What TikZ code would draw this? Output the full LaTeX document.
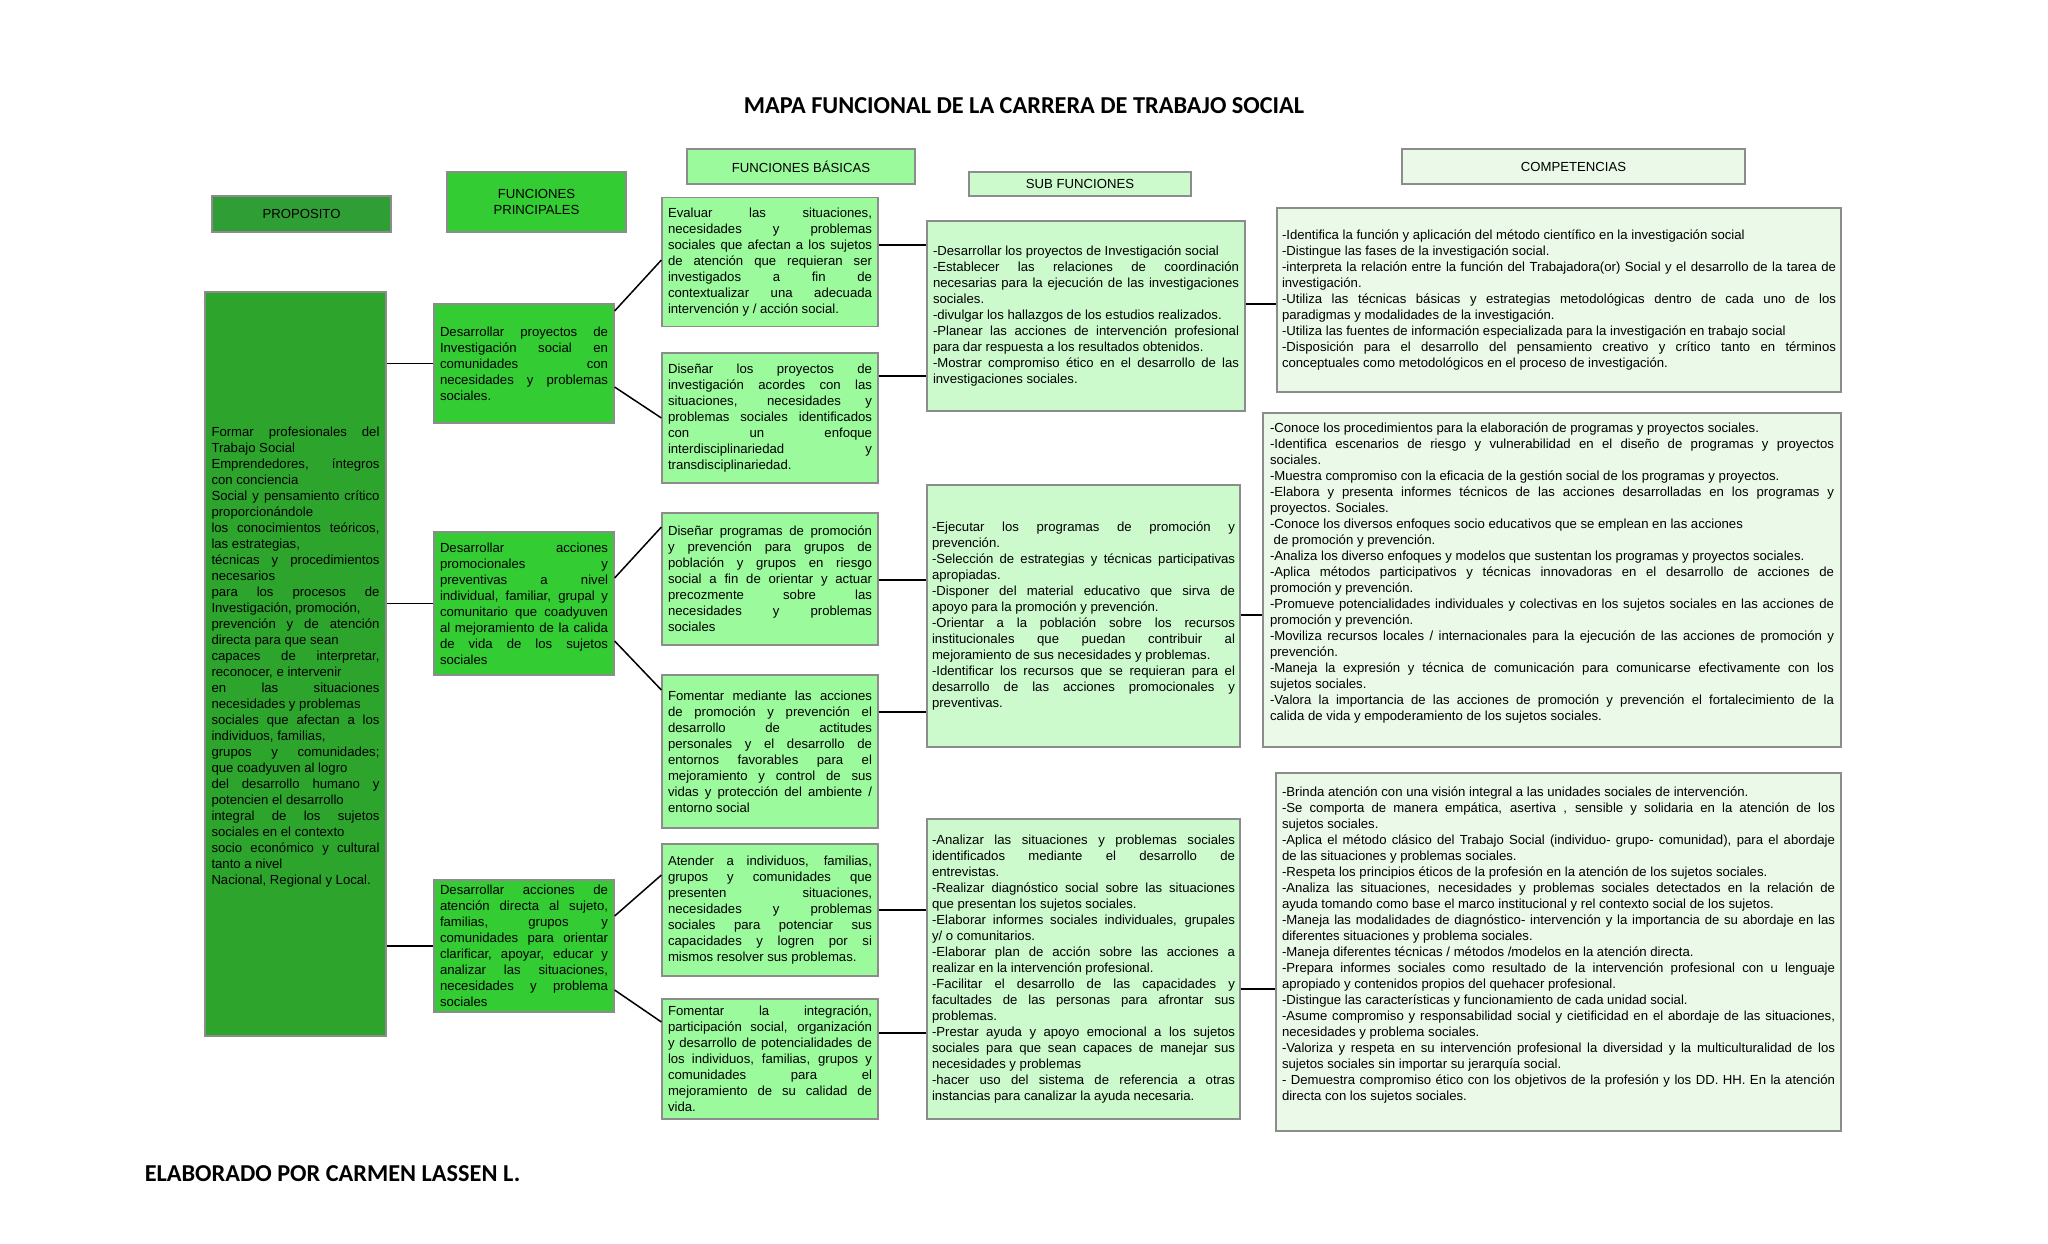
\documentclass[tikz,border=0pt]{standalone}
\usepackage{fontspec}
\setmainfont{Liberation Sans}
\newfontfamily\titlefont{Carlito}
\usepackage{xcolor}
\usepackage{tikz}
\definecolor{propdark}{HTML}{2F9F35}
\definecolor{propgreen}{HTML}{2DA52D}
\definecolor{princgreen}{HTML}{33CC33}
\definecolor{basicgreen}{HTML}{9BFA9B}
\definecolor{subgreen}{HTML}{CCFACC}
\definecolor{compgreen}{HTML}{EBF9E8}
\definecolor{boxgray}{HTML}{8C8C8C}
\newcommand{\bodyfont}{\fontsize{13.15}{16}\selectfont\hyphenpenalty=10000 \tolerance=10000 \hbadness=10000 }
\newcommand{\jbr}{\linebreak}

\begin{document}
\begin{tikzpicture}[x=1pt, y=-1pt, line width=1.5pt,
  box/.style={draw=boxgray, line width=1.2pt, inner ysep=0pt, align=justify, font=\bodyfont},
  hdr/.style={draw=boxgray, line width=1.2pt, inner sep=0pt, align=center, font=\bodyfont},
  princ/.style={box, fill=princgreen, text width=168pt, inner xsep=6pt},
  basic/.style={box, fill=basicgreen, text width=204pt, inner xsep=6pt},
  sub/.style={box, fill=subgreen, text width=303pt, inner xsep=5pt},
  comp/.style={box, fill=compgreen}]
  \useasboundingbox (0,0) rectangle (2048,1243);
  % titles
  \node[font={\fontsize{24.3}{29}\selectfont\titlefont\bfseries}] (title) at (1024,106) {MAPA FUNCIONAL DE LA CARRERA DE TRABAJO SOCIAL};
  \node[anchor=west, inner sep=0pt, font={\fontsize{24.3}{29}\selectfont\titlefont\bfseries}] (author) at (144,1174) {ELABORADO POR CARMEN LASSEN L.};
  % column headers
  \node[hdr, fill=propdark, minimum width=179pt, minimum height=36pt] (prophead) at (301.5,214) {PROPOSITO};
  \node[hdr, fill=princgreen, minimum width=179pt, minimum height=60pt] (princhead) at (536.5,202) {FUNCIONES\\PRINCIPALES};
  \node[hdr, fill=basicgreen, minimum width=228pt, minimum height=35pt] (basichead) at (801,166.5) {FUNCIONES BÁSICAS};
  \node[hdr, fill=subgreen, minimum width=222pt, minimum height=24pt] (subhead) at (1080,184) {SUB FUNCIONES};
  \node[hdr, fill=compgreen, minimum width=343pt, minimum height=35pt] (comphead) at (1573.5,166.5) {COMPETENCIAS};
  % purpose
  \node[box, fill=propgreen, text width=168pt, inner xsep=6.5pt, minimum height=744pt] (prop) at (295.5,664) {Formar profesionales del\jbr Trabajo Social\par
    Emprendedores, íntegros\jbr con conciencia\par
    Social y pensamiento crítico\jbr proporcionándole\par
    los conocimientos teóricos,\jbr las estrategias,\par
    técnicas y procedimientos\jbr necesarios\par
    para los procesos de\jbr Investigación, promoción,\par
    prevención y de atención\jbr directa para que sean\par
    capaces de interpretar,\jbr reconocer, e intervenir\par
    en las situaciones\jbr necesidades y problemas\par
    sociales que afectan a los\jbr individuos, familias,\par
    grupos y comunidades;\jbr que coadyuven al logro\par
    del desarrollo humano y\jbr potencien el desarrollo\par
    integral de los sujetos\jbr sociales en el contexto\par
    socio económico y cultural\jbr tanto a nivel\par
    Nacional, Regional y Local.\par\mbox{}};
  % principal functions
  \node[princ, minimum height=119pt] (p1) at (524,363.5) {Desarrollar proyectos de\jbr Investigación social en\jbr comunidades con\jbr necesidades y problemas\jbr sociales.};
  \node[princ, minimum height=143pt] (p2) at (524,603.5) {Desarrollar acciones\jbr promocionales y\jbr preventivas a nivel\jbr individual, familiar, grupal y\jbr comunitario que coadyuven\jbr al mejoramiento de la calida\jbr de vida de los sujetos\jbr sociales};
  \node[princ, minimum height=132pt] (p3) at (524,946) {Desarrollar acciones de\jbr atención directa al sujeto,\jbr familias, grupos y\jbr comunidades para orientar\jbr clarificar, apoyar, educar y\jbr analizar las situaciones,\jbr necesidades y problema\jbr sociales};
  % basic functions
  \node[basic, minimum height=129pt] (b1) at (770,262) {Evaluar las situaciones,\jbr necesidades y problemas\jbr sociales que afectan a los sujetos\jbr de atención que requieran ser\jbr investigados a fin de\jbr contextualizar una adecuada\jbr intervención y / acción social.};
  \node[basic, minimum height=130pt] (b2) at (770,418) {Diseñar los proyectos de\jbr investigación acordes con las\jbr situaciones, necesidades y\jbr problemas sociales identificados\jbr con un enfoque\jbr interdisciplinariedad y\jbr transdisciplinariedad.};
  \node[basic, minimum height=132pt] (b3) at (770,579) {Diseñar programas de promoción\jbr y prevención para grupos de\jbr población y grupos en riesgo\jbr social a fin de orientar y actuar\jbr precozmente sobre las\jbr necesidades y problemas\jbr sociales};
  \node[basic, minimum height=153pt] (b4) at (770,751.5) {Fomentar mediante las acciones\jbr de promoción y prevención el\jbr desarrollo de actitudes\jbr personales y el desarrollo de\jbr entornos favorables para el\jbr mejoramiento y control de sus\jbr vidas y protección del ambiente /\jbr entorno social};
  \node[basic, minimum height=132pt] (b5) at (770,910) {Atender a individuos, familias,\jbr grupos y comunidades que\jbr presenten situaciones,\jbr necesidades y problemas\jbr sociales para potenciar sus\jbr capacidades y logren por si\jbr mismos resolver sus problemas.};
  \node[basic, minimum height=120pt] (b6) at (770,1059) {Fomentar la integración,\jbr participación social, organización\jbr y desarrollo de potencialidades de\jbr los individuos, familias, grupos y\jbr comunidades para el\jbr mejoramiento de su calidad de\jbr vida.};
  % sub functions
  \node[sub, text width=306pt, inner xsep=6pt, minimum height=190pt] (s1) at (1086,316) {-Desarrollar los proyectos de Investigación social\par
    -Establecer las relaciones de coordinación\jbr necesarias para la ejecución de las investigaciones\jbr sociales.\par
    -divulgar los hallazgos de los estudios realizados.\par
    -Planear las acciones de intervención profesional\jbr para dar respuesta a los resultados obtenidos.\par
    -Mostrar compromiso ético en el desarrollo de las\jbr investigaciones sociales.};
  \node[sub, minimum height=262pt] (s2) at (1083.5,616) {-Ejecutar los programas de promoción y\jbr prevención.\par
    -Selección de estrategias y técnicas participativas\jbr apropiadas.\par
    -Disponer del material educativo que sirva de\jbr apoyo para la promoción y prevención.\par
    -Orientar a la población sobre los recursos\jbr institucionales que puedan contribuir al\jbr mejoramiento de sus necesidades y problemas.\par
    -Identificar los recursos que se requieran para el\jbr desarrollo de las acciones promocionales y\jbr preventivas.};
  \node[sub, minimum height=300pt] (s3) at (1083.5,969) {-Analizar las situaciones y problemas sociales\jbr identificados mediante el desarrollo de\jbr entrevistas.\par
    -Realizar diagnóstico social sobre las situaciones\jbr que presentan los sujetos sociales.\par
    -Elaborar informes sociales individuales, grupales\jbr y/ o comunitarios.\par
    -Elaborar plan de acción sobre las acciones a\jbr realizar en la intervención profesional.\par
    -Facilitar el desarrollo de las capacidades y\jbr facultades de las personas para afrontar sus\jbr problemas.\par
    -Prestar ayuda y apoyo emocional a los sujetos\jbr sociales para que sean capaces de manejar sus\jbr necesidades y problemas\par
    -hacer uso del sistema de referencia a otras\jbr instancias para canalizar la ayuda necesaria.};
  % competences
  \node[comp, text width=554pt, inner xsep=5pt, minimum height=184pt] (c1) at (1559,300) {-Identifica la función y aplicación del método científico en la investigación social\par
    -Distingue las fases de la investigación social.\par
    -interpreta la relación entre la función del Trabajadora(or) Social y el desarrollo de la tarea de\jbr investigación.\par
    -Utiliza las técnicas básicas y estrategias metodológicas dentro de cada uno de los\jbr paradigmas y modalidades de la investigación.\par
    -Utiliza las fuentes de información especializada para la investigación en trabajo social\par
    -Disposición para el desarrollo del pensamiento creativo y crítico tanto en términos\jbr conceptuales como metodológicos en el proceso de investigación.};
  \node[comp, text width=564pt, inner xsep=7pt, minimum height=334pt] (c2) at (1552,580) {-Conoce los procedimientos para la elaboración de programas y proyectos sociales.\par
    -Identifica escenarios de riesgo y vulnerabilidad en el diseño de programas y proyectos\jbr sociales.\par
    -Muestra compromiso con la eficacia de la gestión social de los programas y proyectos.\par
    -Elabora y presenta informes técnicos de las acciones desarrolladas en los programas y\jbr proyectos. Sociales.\par
    -Conoce los diversos enfoques socio educativos que se emplean en las acciones\par
    \hspace*{3.7pt}de promoción y prevención.\par
    -Analiza los diverso enfoques y modelos que sustentan los programas y proyectos sociales.\par
    -Aplica métodos participativos y técnicas innovadoras en el desarrollo de acciones de\jbr promoción y prevención.\par
    -Promueve potencialidades individuales y colectivas en los sujetos sociales en las acciones de\jbr promoción y prevención.\par
    -Moviliza recursos locales / internacionales para la ejecución de las acciones de promoción y\jbr prevención.\par
    -Maneja la expresión y técnica de comunicación para comunicarse efectivamente con los\jbr sujetos sociales.\par
    -Valora la importancia de las acciones de promoción y prevención el fortalecimiento de la\jbr calida de vida y empoderamiento de los sujetos sociales.\par\mbox{}};
  \node[comp, text width=553pt, inner xsep=6pt, minimum height=358pt] (c3) at (1558.5,952) {-Brinda atención con una visión integral a las unidades sociales de intervención.\par
    -Se comporta de manera empática, asertiva , sensible y solidaria en la atención de los\jbr sujetos sociales.\par
    -Aplica el método clásico del Trabajo Social (individuo- grupo- comunidad), para el abordaje\jbr de las situaciones y problemas sociales.\par
    -Respeta los principios éticos de la profesión en la atención de los sujetos sociales.\par
    -Analiza las situaciones, necesidades y problemas sociales detectados en la relación de\jbr ayuda tomando como base el marco institucional y rel contexto social de los sujetos.\par
    -Maneja las modalidades de diagnóstico- intervención y la importancia de su abordaje en las\jbr diferentes situaciones y problema sociales.\par
    -Maneja diferentes técnicas / métodos /modelos en la atención directa.\par
    -Prepara informes sociales como resultado de la intervención profesional con u lenguaje\jbr apropiado y contenidos propios del quehacer profesional.\par
    -Distingue las características y funcionamiento de cada unidad social.\par
    -Asume compromiso y responsabilidad social y cietificidad en el abordaje de las situaciones,\jbr necesidades y problema sociales.\par
    -Valoriza y respeta en su intervención profesional la diversidad y la multiculturalidad de los\jbr sujetos sociales sin importar su jerarquía social.\par
    - Demuestra compromiso ético con los objetivos de la profesión y los DD. HH. En la atención\jbr directa con los sujetos sociales.\par\mbox{}};
  % connectors
  \foreach \p in {p1,p2,p3}
    \draw (prop.east |- \p.west) -- (\p.west);
  \foreach \a/\ya/\b/\yb in {p1/311/b1/260, p1/387/b2/418, p2/578/b3/527, p2/641/b4/690, p3/916/b5/875, p3/990/b6/1022}
    \draw (\a.east |- 0,\ya) -- (\b.west |- 0,\yb);
  \foreach \a/\b/\y in {b1/s1/245, b2/s1/376, b3/s2/580, b4/s2/712, b5/s3/910, b6/s3/1033, s1/c1/304, s2/c2/615, s3/c3/989}
    \draw (\a.east |- 0,\y) -- (\b.west |- 0,\y);
\end{tikzpicture}
\end{document}
